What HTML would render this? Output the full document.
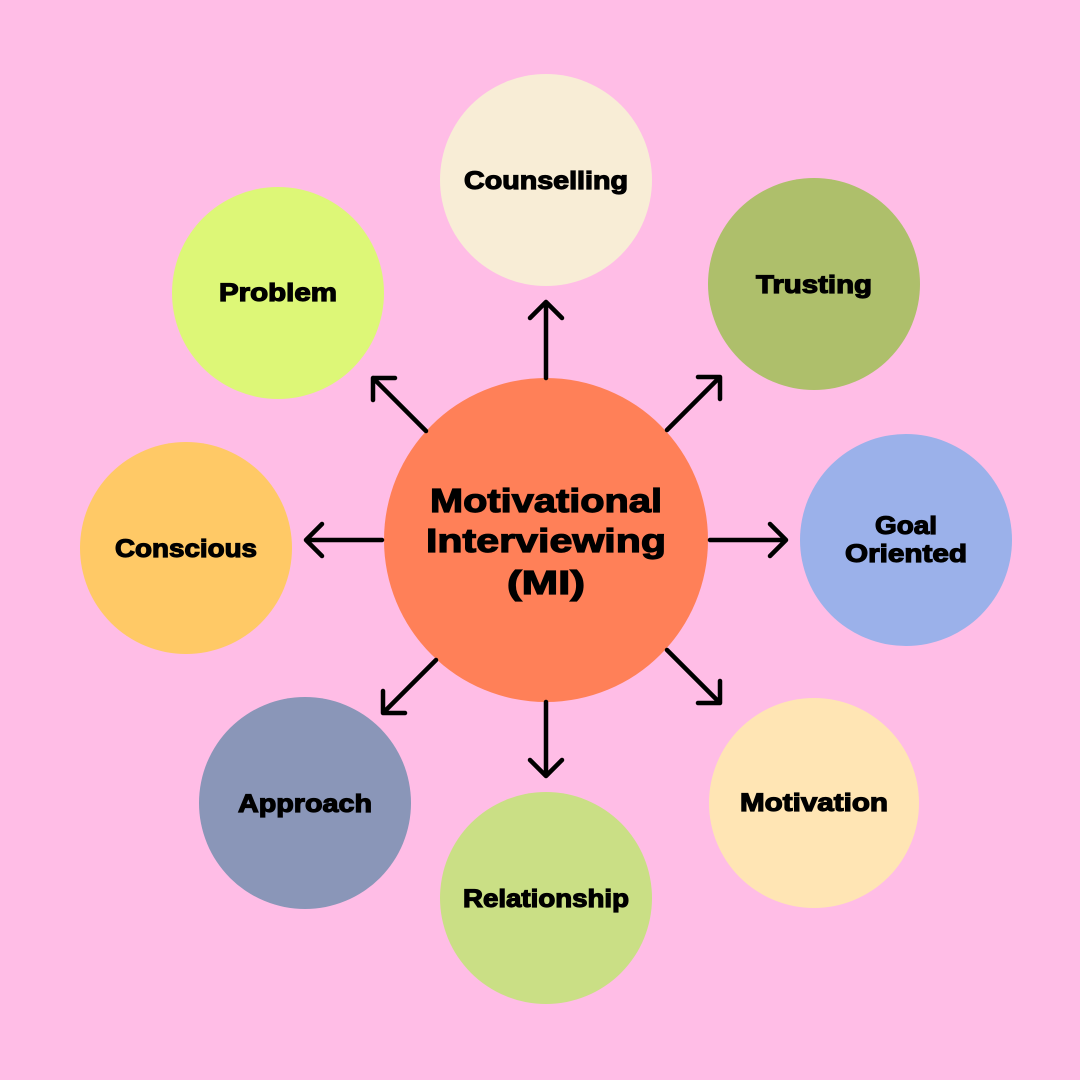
<!DOCTYPE html>
<html><head><style>
html,body{margin:0;padding:0;background:#FFBDE6;}
svg{display:block}
text{font-family:"Liberation Sans",sans-serif;font-weight:bold;fill:#000;stroke:#000;stroke-width:1.2;text-anchor:middle;}
</style></head><body>
<svg width="1080" height="1080" viewBox="0 0 1080 1080">
<rect width="1080" height="1080" fill="#FFBDE6"/>
<circle cx="546" cy="180" r="106" fill="#F8EDD6"/>
<circle cx="814" cy="284" r="106" fill="#AEBF6B"/>
<circle cx="906" cy="540" r="106" fill="#9BB1EA"/>
<circle cx="814" cy="803" r="105" fill="#FFE5B4"/>
<circle cx="546" cy="898" r="106" fill="#CADF85"/>
<circle cx="305" cy="803" r="106" fill="#8A96B8"/>
<circle cx="186" cy="548" r="106" fill="#FFC966"/>
<circle cx="278" cy="293" r="106" fill="#DDF777"/>
<circle cx="546" cy="540" r="162" fill="#FF8058"/>
<g stroke="#000" stroke-width="4.5" fill="none" stroke-linecap="round" stroke-linejoin="round">
<path d="M546 378 V302 M530 318 L546 302 L562 318"/>
<path d="M710 540 H786 M770 524 L786 540 L770 556"/>
<path d="M382 540 H306 M322 524 L306 540 L322 556"/>
<path d="M546 702 V776 M530 760 L546 776 L562 760"/>
<path d="M667 430 L720 377 M698 377 L720 377 L720 399"/>
<path d="M426 431 L373 378 M373 400 L373 378 L395 378"/>
<path d="M667 650 L720 703 M720 681 L720 703 L698 703"/>
<path d="M436 660 L383 713 M383 691 L383 713 L405 713"/>
</g>
<g font-size="25">
<text x="546" y="189" textLength="164" lengthAdjust="spacingAndGlyphs">Counselling</text>
<text x="814" y="293" textLength="116" lengthAdjust="spacingAndGlyphs">Trusting</text>
<text x="906" y="534" textLength="62" lengthAdjust="spacingAndGlyphs">Goal</text>
<text x="906" y="562" textLength="122" lengthAdjust="spacingAndGlyphs">Oriented</text>
<text x="814" y="811" textLength="148" lengthAdjust="spacingAndGlyphs">Motivation</text>
<text x="546" y="907" textLength="166" lengthAdjust="spacingAndGlyphs">Relationship</text>
<text x="305" y="812" textLength="134" lengthAdjust="spacingAndGlyphs">Approach</text>
<text x="186" y="557" textLength="142" lengthAdjust="spacingAndGlyphs">Conscious</text>
<text x="278" y="301" textLength="118" lengthAdjust="spacingAndGlyphs">Problem</text>
</g>
<g font-size="33" style="stroke-width:1.8">
<text x="546" y="512" textLength="232" lengthAdjust="spacingAndGlyphs">Motivational</text>
<text x="546" y="552" textLength="240" lengthAdjust="spacingAndGlyphs">Interviewing</text>
<text x="546" y="594" textLength="78" lengthAdjust="spacingAndGlyphs">(MI)</text>
</g>
</svg>
</body></html>
